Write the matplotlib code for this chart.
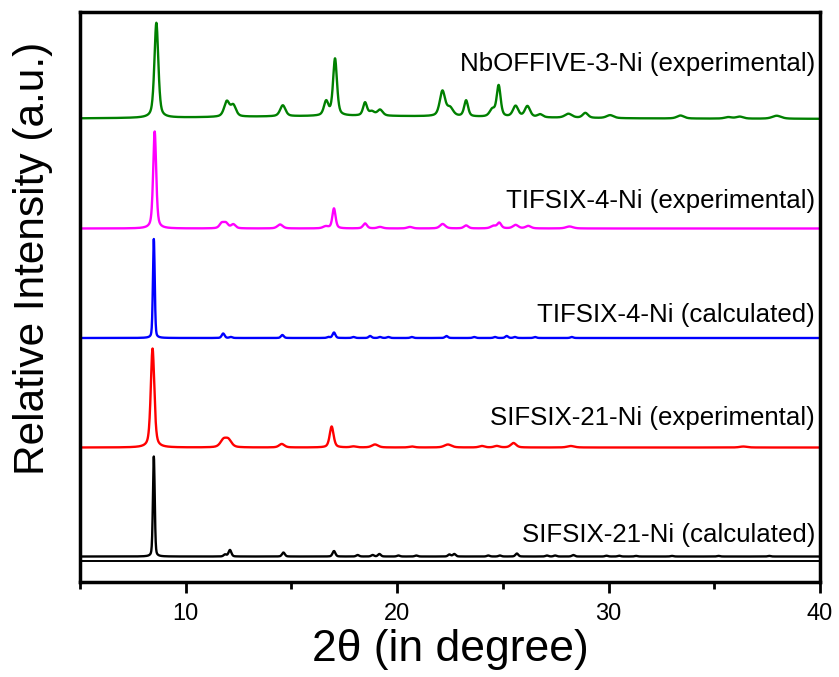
import numpy as np
import matplotlib
matplotlib.use("Agg")
import matplotlib.pyplot as plt
from matplotlib.ticker import MultipleLocator

plt.rcParams['font.family'] = ['Liberation Sans', 'DejaVu Sans']

# peak tables: 2theta (deg), height, fwhm (deg)
nb_pos = [8.61, 11.94, 12.25, 14.59, 16.64, 17.06, 18.48, 18.80, 19.19, 22.14, 22.50,
          23.26, 24.50, 24.80, 25.60, 26.16, 26.76, 28.10, 28.90, 30.07, 33.40, 35.66,
          36.20, 37.95, 18.0]
nb_h = [95, 15, 11, 11, 14, 57, 13, 4, 6, 25, 8,
        16, 7, 31, 11, 11, 3, 4, 5, 3, 3, 1.5,
        2, 3, 3]
nb_w = [0.22, 0.30, 0.30, 0.30, 0.25, 0.22, 0.22, 0.30, 0.30, 0.30, 0.35,
        0.22, 0.30, 0.22, 0.30, 0.30, 0.30, 0.40, 0.30, 0.40, 0.40, 0.40,
        0.40, 0.50, 16.0]

tif_exp_pos = [8.53, 11.70, 11.90, 12.25, 14.46, 16.62, 17.01, 18.48, 19.19, 20.60,
               22.15, 23.26, 24.55, 24.83, 25.60, 26.20, 28.15]
tif_exp_h = [97, 5, 5, 4, 4, 2, 20, 5, 1.5, 1.5,
             4.5, 3, 2.5, 5.5, 3.5, 2.5, 2]
tif_exp_w = [0.17, 0.25, 0.25, 0.25, 0.30, 0.30, 0.18, 0.22, 0.30, 0.30,
             0.30, 0.25, 0.30, 0.22, 0.30, 0.30, 0.40]

tif_calc_pos = [8.49, 11.77, 12.13, 14.57, 16.75, 17.01, 17.93, 18.72, 19.19, 19.58,
                20.69, 22.33, 23.64, 24.63, 25.18, 25.57, 26.52, 28.26]
tif_calc_h = [99, 4.5, 1, 3, 1, 5.5, 1, 2, 1, 1,
              1, 2, 1, 1, 2, 1, 1, 1]

sif_exp_pos = [8.43, 11.78, 12.02, 14.54, 16.90, 17.93, 18.95, 20.69, 22.40, 24.00,
               24.71, 25.50, 28.21, 36.37]
sif_exp_h = [99, 7, 7, 3.5, 21, 1, 3, 1, 3, 1.5,
             1.5, 4.5, 1.5, 1]
sif_exp_w = [0.20, 0.35, 0.35, 0.30, 0.22, 0.30, 0.35, 0.30, 0.40, 0.30,
             0.30, 0.30, 0.40, 0.40]

sif_calc_pos = [8.49, 11.86, 12.09, 14.62, 17.01, 18.13, 18.84, 19.16, 20.06, 20.90,
                22.47, 22.70, 24.31, 24.86, 25.66, 27.08, 27.47, 28.33, 29.90, 30.50,
                31.30, 33.00, 35.20, 37.60]
sif_calc_h = [100, 2, 6.5, 4, 5.5, 1.5, 1.5, 2.5, 1, 1,
              2, 2.5, 1, 1, 3, 1, 1, 1.5, 0.8, 0.8,
              0.6, 0.6, 0.6, 0.6]

labels = ["NbOFFIVE-3-Ni (experimental)", "TIFSIX-4-Ni (experimental)",
          "TIFSIX-4-Ni (calculated)", "SIFSIX-21-Ni (experimental)",
          "SIFSIX-21-Ni (calculated)"]
offsets = [463, 353.5, 244, 134.5, 25.5]
colors = ["#008000", "#ff00ff", "#0000ff", "#ff0000", "#000000"]


def pattern(x, pos, h, w, eta=0.5):
    y = np.zeros_like(x)
    for p, a, f in zip(pos, h, w):
        g = np.exp(-4 * np.log(2) * ((x - p) / f) ** 2)
        l = 1.0 / (1.0 + 4 * ((x - p) / f) ** 2)
        y += a * (eta * l + (1 - eta) * g)
    return y


def calc_widths(n):
    # main reflection sharp, the rest a bit broader
    return [0.10] + [0.16] * (n - 1)


x = np.linspace(5, 40, 3501)
curves = [
    pattern(x, nb_pos, nb_h, nb_w),
    pattern(x, tif_exp_pos, tif_exp_h, tif_exp_w),
    pattern(x, tif_calc_pos, tif_calc_h, calc_widths(len(tif_calc_pos)), eta=0.3),
    pattern(x, sif_exp_pos, sif_exp_h, sif_exp_w),
    pattern(x, sif_calc_pos, sif_calc_h, calc_widths(len(sif_calc_pos)), eta=0.3),
]

fig = plt.figure(figsize=(8.39, 6.77), dpi=100)
ax = fig.add_axes([0.0954, 0.1403, 0.882, 0.842])

for y, off, c in zip(curves, offsets, colors):
    ax.plot(x, y + off, color=c, lw=1.7)
ax.axhline(21.3, color="black", lw=1.4)

label_y = [511.3, 373.7, 260.3, 157, 40.3]
for txt, ly in zip(labels, label_y):
    ax.text(39.76, ly, txt, ha="right", va="baseline", fontsize=18.6)

ax.set_xlim(5, 40)
ax.set_ylim(0, 570)
ax.set_yticks([])
ax.xaxis.set_major_locator(MultipleLocator(10))
ax.xaxis.set_minor_locator(MultipleLocator(5))
ax.tick_params(axis="x", which="major", direction="out", length=8, width=2,
               labelsize=17, pad=7, top=False)
ax.tick_params(axis="x", which="minor", direction="out", length=5, width=2, top=False)
for s in ax.spines.values():
    s.set_linewidth(2.5)

ax.set_xlabel("2\u03b8 (in degree)", fontsize=32, labelpad=3)
ax.set_ylabel("Relative Intensity (a.u.)", fontsize=30.5)
ax.yaxis.set_label_coords(-0.037, 0.568)

fig.savefig("out.png", dpi=100)
